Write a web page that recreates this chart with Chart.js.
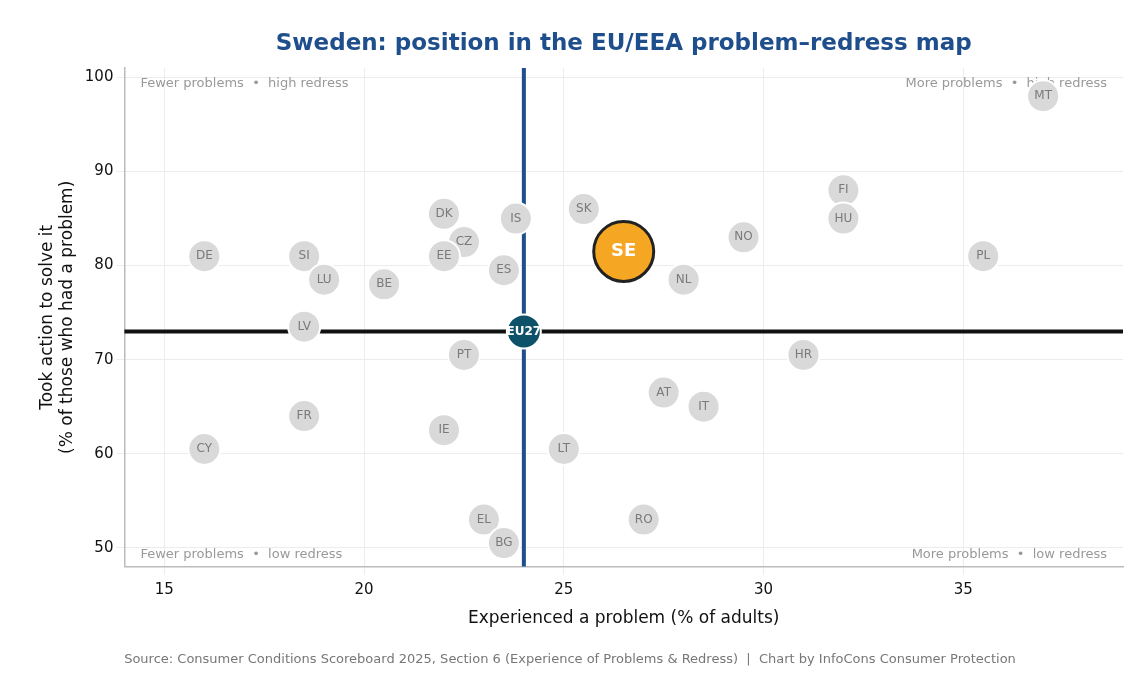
<!DOCTYPE html>
<html>
<head>
<meta charset="utf-8">
<script src="https://cdn.jsdelivr.net/npm/chart.js@4/dist/chart.umd.min.js"></script>
<style>
  html, body { margin: 0; padding: 0; background: #fff; overflow: hidden; }
</style>
</head>
<body>
<canvas id="c" width="1140" height="675"></canvas>
<script>
// ── Data ─────────────────────────────────────────────────────────
const countries = ['DE','SI','LU','BE','LV','FR','CY','DK','CZ','EE','ES','IS','SK','PT','IE','EL','BG','LT','RO','AT','IT','NL','NO','HR','FI','HU','PL','MT'];
const problemPct = [16, 18.5, 19, 20.5, 18.5, 18.5, 16, 22, 22.5, 22, 23.5, 23.8, 25.5, 22.5, 22, 23, 23.5, 25, 27, 27.5, 28.5, 28, 29.5, 31, 32, 32, 35.5, 37];
const redressPct = [81, 81, 78.5, 78, 73.5, 64, 60.5, 85.5, 82.5, 81, 79.5, 85, 86, 70.5, 62.5, 53, 50.5, 60.5, 53, 66.5, 65, 78.5, 83, 70.5, 88, 85, 81, 98];
const sePoint = { x: 26.5, y: 81.5 };
const euPoint = { x: 24, y: 73 };
const xTicks = [15, 20, 25, 30, 35];
const yTicks = [50, 60, 70, 80, 90, 100];

const FONT = '"DejaVu Sans", sans-serif';

const overlay = {
  id: 'overlay',
  beforeDatasetsDraw(chart) {
    const { ctx, chartArea: a, scales: { x, y } } = chart;
    ctx.save();
    // title, centred over the plot area
    ctx.fillStyle = '#1f4e8c';
    ctx.font = `bold 23px ${FONT}`;
    ctx.textAlign = 'center';
    ctx.textBaseline = 'middle';
    ctx.fillText('Sweden: position in the EU/EEA problem–redress map', (a.left + a.right) / 2, 44);
    // quadrant captions
    ctx.fillStyle = '#999';
    ctx.font = `13px ${FONT}`;
    ctx.textAlign = 'left';
    ctx.fillText('Fewer problems  •  high redress', a.left + 16, y.getPixelForValue(99.3));
    ctx.fillText('Fewer problems  •  low redress', a.left + 16, y.getPixelForValue(49.3));
    ctx.textAlign = 'right';
    ctx.fillText('More problems  •  high redress', a.right - 16, y.getPixelForValue(99.3));
    ctx.fillText('More problems  •  low redress', a.right - 16, y.getPixelForValue(49.3));
    // reference lines
    ctx.lineWidth = 4;
    ctx.strokeStyle = '#1f4e8c';
    const vx = x.getPixelForValue(euPoint.x);
    ctx.beginPath(); ctx.moveTo(vx, a.top); ctx.lineTo(vx, a.bottom); ctx.stroke();
    ctx.strokeStyle = '#111';
    const hy = y.getPixelForValue(euPoint.y);
    ctx.beginPath(); ctx.moveTo(a.left, hy); ctx.lineTo(a.right, hy); ctx.stroke();
    ctx.restore();
  },
  afterDatasetsDraw(chart) {
    const { ctx, scales: { x, y } } = chart;
    ctx.save();
    ctx.textAlign = 'center';
    ctx.textBaseline = 'middle';
    ctx.fillStyle = '#7a7a7a';
    ctx.font = `12px ${FONT}`;
    countries.forEach((c, i) => {
      ctx.fillText(c, x.getPixelForValue(problemPct[i]), y.getPixelForValue(redressPct[i]));
    });
    ctx.fillStyle = '#fff';
    ctx.font = `bold 18px ${FONT}`;
    ctx.fillText('SE', x.getPixelForValue(sePoint.x), y.getPixelForValue(sePoint.y));
    ctx.font = `bold 12px ${FONT}`;
    ctx.fillText('EU27', x.getPixelForValue(euPoint.x), y.getPixelForValue(euPoint.y));
    // source line
    ctx.fillStyle = '#777';
    ctx.font = `13px ${FONT}`;
    ctx.fillText('Source: Consumer Conditions Scoreboard 2025, Section 6 (Experience of Problems & Redress)  |  Chart by InfoCons Consumer Protection', 570, 660);
    ctx.restore();
  }
};

new Chart(document.getElementById('c'), {
  type: 'scatter',
  data: {
    datasets: [
      {
        data: countries.map((c, i) => ({ x: problemPct[i], y: redressPct[i] })),
        pointRadius: 16, pointHoverRadius: 16,
        backgroundColor: '#d9d9d9', borderColor: '#fff', borderWidth: 2,
      },
      {
        data: [euPoint],
        pointRadius: 17, pointHoverRadius: 17,
        backgroundColor: '#0d5268', borderColor: '#fff', borderWidth: 2,
      },
      {
        data: [sePoint],
        pointRadius: 30, pointHoverRadius: 30,
        backgroundColor: '#f5a623', borderColor: '#222', borderWidth: 3,
      },
    ],
  },
  options: {
    responsive: false,
    animation: false,
    devicePixelRatio: 1,
    layout: { autoPadding: false, padding: { top: 68, right: 17, bottom: 42, left: 33 } },
    plugins: {
      legend: { display: false },
      tooltip: { enabled: false },
      title: { display: false },
    },
    scales: {
      x: {
        min: 14, max: 39,
        afterBuildTicks: s => { s.ticks = xTicks.map(v => ({ value: v })); },
        afterFit: s => { s.paddingRight = 0; s.paddingLeft = 0; },
        title: { display: true, text: 'Experienced a problem (% of adults)', color: '#111', font: { family: FONT, size: 17 }, padding: { top: 2 } },
        ticks: { color: '#111', font: { family: FONT, size: 15 }, padding: 7 },
        grid: { color: '#ececec' },
        border: { color: '#bbb', width: 1.5 },
      },
      y: {
        min: 48, max: 101,
        afterBuildTicks: s => { s.ticks = yTicks.map(v => ({ value: v })); },
        title: { display: true, text: ['Took action to solve it', '(% of those who had a problem)'], color: '#111', font: { family: FONT, size: 17 } },
        ticks: { color: '#111', font: { family: FONT, size: 15 } },
        grid: { color: '#ececec' },
        border: { color: '#bbb', width: 1.5 },
      },
    },
  },
  plugins: [overlay],
});
</script>
</body>
</html>
